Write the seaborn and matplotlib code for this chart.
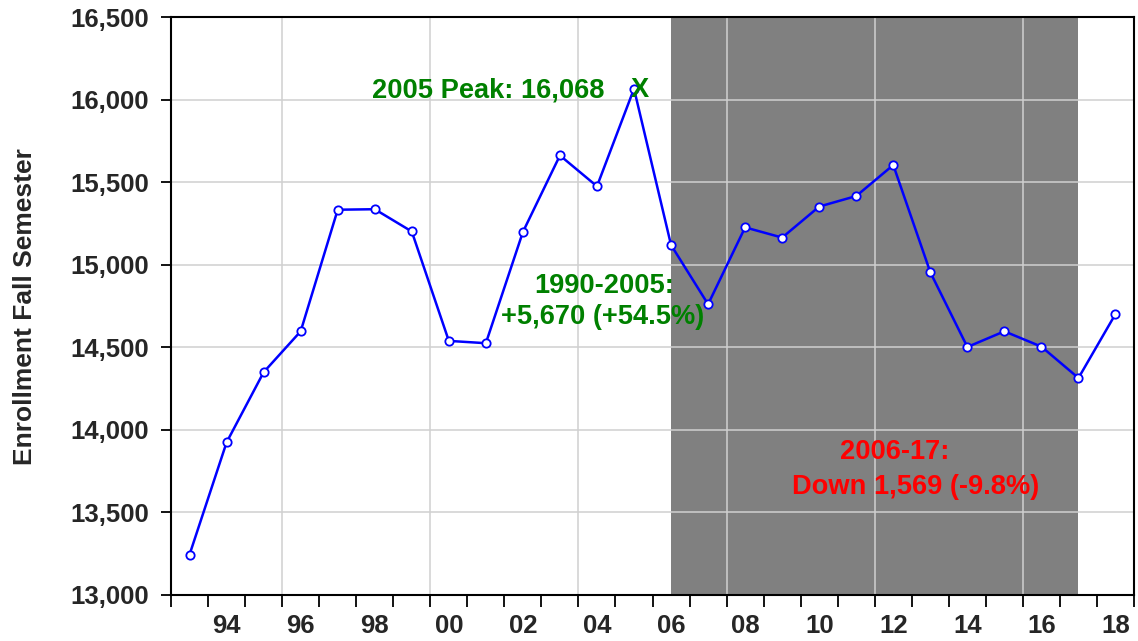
import matplotlib
matplotlib.use("Agg")
import matplotlib.pyplot as plt
import matplotlib.ticker as mticker
import numpy as np
import pandas as pd
import seaborn as sns

# Fall-semester enrollment by year
years = [1993, 1994, 1995, 1996, 1997, 1998, 1999, 2000, 2001, 2002, 2003, 2004, 2005,
         2006, 2007, 2008, 2009, 2010, 2011, 2012, 2013, 2014, 2015, 2016, 2017, 2018]
enrollment = [13245, 13925, 14350, 14598, 15335, 15338, 15203, 14540, 14526, 15200, 15664, 15477, 16068,
              15121, 14762, 15228, 15166, 15354, 15418, 15606, 14956, 14503, 14598, 14505, 14315, 14703]

tick_years = [1994, 1996, 1998, 2000, 2002, 2004, 2006, 2008, 2010, 2012, 2014, 2016, 2018]
tick_labels = ["94", "96", "98", "00", "02", "04", "06", "08", "10", "12", "14", "16", "18"]
y_ticks = [13000, 13500, 14000, 14500, 15000, 15500, 16000, 16500]

decline_start, decline_end = 2006, 2017

sns.set_style("white")
plt.rcParams["font.family"] = ["Liberation Sans", "DejaVu Sans"]
plt.rcParams["font.weight"] = "bold"

df = pd.DataFrame({"year": years, "enrollment": enrollment})

fig = plt.figure(figsize=(11.38, 6.41), dpi=100)
ax = fig.add_axes([0.1503, 0.0718, 0.8462, 0.9009])

# shaded decline period
ax.axvspan(decline_start, decline_end, color="#808080", lw=0, zorder=0.5)

# grid lines
grid_kw = dict(color="#d0d0d0", lw=1.1, zorder=1)
for yv in y_ticks[1:-1]:
    ax.axhline(yv, **grid_kw)
for xv in np.arange(1995.5, 2018, 4):
    ax.axvline(xv, **grid_kw)

sns.lineplot(data=df, x="year", y="enrollment", ax=ax, color="#0000ff", lw=1.8,
             marker="o", markersize=6, markerfacecolor="white",
             markeredgecolor="#0000ff", markeredgewidth=1.3, zorder=3)

ax.set_xlim(1992.5, 2018.5)
ax.set_ylim(13000, 16500)

ax.set_xticks(tick_years)
ax.set_xticklabels(tick_labels)
ax.xaxis.set_minor_locator(mticker.FixedLocator(np.arange(1992.5, 2019, 1.0)))
ax.tick_params(axis="x", which="major", length=0, pad=14, labelsize=18.5)
ax.tick_params(axis="x", which="minor", length=8.5, width=1.3, color="black", direction="out", bottom=True)

ax.set_yticks(y_ticks)
ax.yaxis.set_major_formatter(mticker.FuncFormatter(lambda v, p: f"{int(v):,}"))
ax.tick_params(axis="y", which="major", length=7, width=1.3, color="black", direction="out",
               pad=9, labelsize=18.5, left=True)

for lab in ax.get_xticklabels() + ax.get_yticklabels():
    lab.set_fontweight("bold")

ax.set_xlabel("")
ax.set_ylabel("Enrollment Fall Semester", fontsize=19, fontweight="bold")
ax.yaxis.set_label_coords(-0.139, 0.5)

for sp in ax.spines.values():
    sp.set_visible(True)
    sp.set_color("black")
    sp.set_linewidth(1.5)
    sp.set_zorder(4)

green = "#008000"
red = "#ff0000"
note_size = 19.6
ax.text(2004.2, 16018, "2005 Peak: 16,068", color=green, fontsize=note_size, fontweight="bold",
        ha="right", va="baseline", zorder=5)
ax.text(2005.15, 16020, "X", color=green, fontsize=note_size, fontweight="bold",
        ha="center", va="baseline", zorder=5)
ax.text(2004.2, 14828, "1990-2005:", color=green, fontsize=note_size, fontweight="bold",
        ha="center", va="baseline", zorder=5)
ax.text(2004.15, 14642, "+5,670 (+54.5%)", color=green, fontsize=note_size, fontweight="bold",
        ha="center", va="baseline", zorder=5)
ax.text(2012.04, 13824, "2006-17:", color=red, fontsize=note_size, fontweight="bold",
        ha="center", va="baseline", zorder=5)
ax.text(2012.6, 13610, "Down 1,569 (-9.8%)", color=red, fontsize=note_size, fontweight="bold",
        ha="center", va="baseline", zorder=5)

fig.savefig("out.png", dpi=100)
